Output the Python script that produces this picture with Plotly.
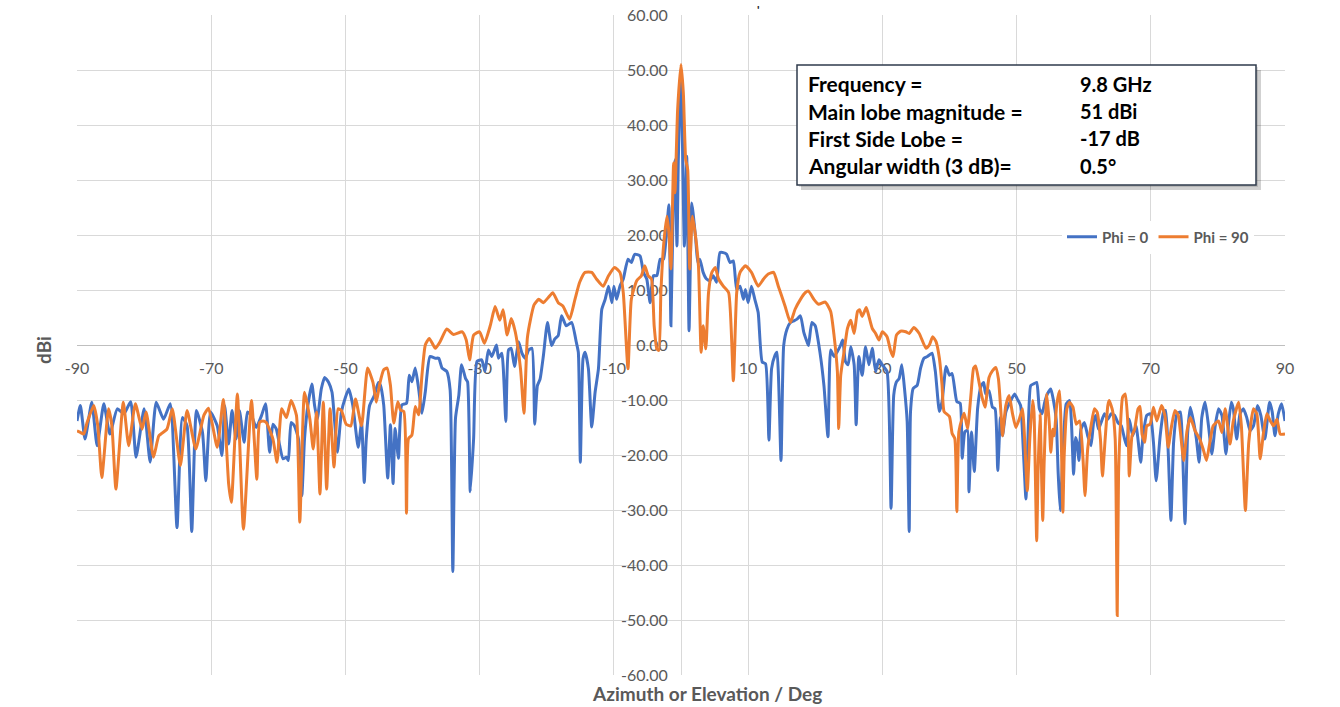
import plotly.graph_objects as go

# ---------------- data ----------------
phi0_angle = [-90.0, -89.5, -88.8, -87.8, -87.0, -86.0, -85.1, -84.0, -83.0, -82.0, -81.2, -80.0, -79.1, -78.2, -77.1, -76.1,
              -75.1, -74.3, -73.6, -72.9, -72.2, -71.3, -70.8, -70.1, -69.1, -68.4, -68.0, -67.4, -66.9, -66.3, -65.8, -65.1,
              -64.6, -64.0, -63.3, -62.5, -61.9, -61.3, -60.8, -60.3, -59.8, -59.3, -58.8, -58.5, -58.1, -57.6, -57.0, -56.5,
              -56.1, -55.6, -55.0, -54.6, -54.2, -53.6, -53.1, -52.5, -52.0, -51.6, -51.2, -50.6, -50.0, -49.5, -48.9, -48.1,
              -47.6, -47.2, -46.9, -46.4, -45.7, -45.1, -44.8, -44.3, -43.7, -43.3, -42.9, -42.6, -42.1, -41.6, -40.9, -40.5,
              -40.1, -39.6, -39.1, -38.6, -38.1, -37.4, -36.6, -36.1, -35.6, -34.9, -34.4, -34.0, -33.6, -33.1, -32.7, -32.1,
              -31.8, -31.4, -30.9, -30.4, -29.7, -29.2, -28.7, -28.2, -27.5, -27.2, -26.7, -26.1, -25.7, -25.3, -24.8, -24.2,
              -23.7, -23.2, -22.7, -22.2, -21.8, -21.4, -21.0, -20.5, -19.9, -19.3, -18.8, -18.3, -17.8, -17.1, -16.3, -15.6,
              -15.3, -15.0, -14.6, -14.3, -13.8, -13.3, -12.8, -12.3, -11.8, -11.3, -10.8, -10.3, -10.0, -9.6, -9.1, -8.6,
              -7.9, -7.4, -6.9, -6.1, -5.6, -5.1, -4.6, -4.1, -3.6, -3.1, -2.6, -2.1, -1.8, -1.5, -1.1, -0.9,
              -0.6, -0.4, 0.0, 0.5, 0.85, 1.2, 1.6, 1.8, 2.2, 2.5, 2.8, 3.3, 3.8, 4.3, 4.8, 5.3,
              5.8, 6.3, 6.8, 7.3, 7.8, 8.3, 8.8, 9.3, 9.6, 10.0, 10.5, 11.0, 11.5, 12.1, 12.6, 13.1,
              13.5, 14.0, 14.3, 14.9, 15.3, 15.8, 16.3, 16.8, 17.3, 17.8, 18.3, 18.8, 19.0, 19.5, 20.0, 20.7,
              21.3, 21.9, 22.3, 22.8, 23.3, 23.8, 24.1, 24.5, 24.9, 25.3, 25.8, 26.1, 26.5, 27.0, 27.5, 28.0,
              28.5, 29.0, 29.5, 30.0, 30.7, 31.3, 31.7, 32.1, 32.5, 32.9, 33.3, 33.7, 34.0, 34.2, 34.6, 35.2,
              35.7, 36.2, 36.7, 37.4, 37.9, 38.5, 38.9, 39.5, 40.0, 40.4, 41.1, 41.6, 41.9, 42.3, 42.7, 42.9,
              43.3, 43.7, 44.2, 44.7, 45.1, 45.4, 45.9, 46.4, 46.8, 47.2, 47.6, 47.9, 48.4, 48.9, 49.7, 50.1,
              50.6, 51.0, 51.4, 51.7, 52.1, 52.5, 53.0, 53.4, 53.8, 54.2, 54.6, 55.1, 55.5, 55.9, 56.2, 56.5,
              56.9, 57.4, 57.9, 58.2, 58.5, 58.8, 59.0, 59.3, 59.6, 60.1, 60.6, 61.1, 61.5, 61.8, 62.2, 62.6,
              63.1, 63.6, 64.1, 64.6, 65.1, 65.6, 66.1, 66.4, 66.8, 67.3, 67.8, 68.5, 68.8, 69.4, 69.9, 70.4,
              70.8, 71.4, 71.9, 72.2, 72.6, 73.0, 73.4, 73.9, 74.4, 74.7, 75.1, 75.5, 75.9, 76.4, 76.8, 77.2,
              77.6, 78.1, 78.6, 79.1, 79.6, 80.1, 80.6, 81.2, 81.6, 82.0, 82.3, 82.8, 83.3, 83.8, 84.3, 84.8,
              85.3, 85.9, 86.4, 87.0, 87.7, 88.1, 88.5, 89.0, 89.5, 90.0]
phi0_dbi = [-13.8, -11.0, -17.1, -10.4, -18.3, -10.7, -16.2, -11.6, -12.5, -10.3, -20.4, -11.6, -21.3, -10.4, -13.5, -10.7,
            -33.2, -13.2, -14.7, -33.9, -11.9, -15.9, -24.7, -12.2, -14.7, -20.1, -11.0, -18.0, -11.9, -17.1, -11.9, -17.7,
            -12.2, -12.8, -15.0, -12.8, -10.7, -19.5, -14.4, -15.3, -18.3, -20.7, -20.4, -21.0, -14.1, -14.7, -17.1, -27.4,
            -17.1, -11.0, -7.1, -11.0, -13.5, -8.0, -5.9, -6.8, -8.6, -14.1, -19.5, -12.2, -9.5, -8.0, -11.0, -18.6,
            -14.1, -25.0, -17.1, -11.0, -9.2, -6.8, -7.3, -10.9, -24.2, -14.5, -25.2, -15.2, -20.6, -10.9, -10.6, -5.5,
            -6.7, -4.2, -7.9, -12.4, -8.5, -2.1, -2.4, -2.4, -4.2, -4.8, -8.2, -41.2, -13.3, -9.1, -3.6, -6.1,
            -6.7, -26.7, -17.0, -3.0, -2.7, -4.8, -0.9, -2.1, 0.0, -2.4, -1.5, -13.9, -0.9, -0.6, -3.9, 0.6,
            -1.5, -2.4, -0.9, -0.6, -14.4, -7.4, -6.2, -1.9, 4.1, -0.1, 1.1, 1.7, 5.3, 3.5, 4.1, 0.5,
            -1.3, -21.3, -2.5, -1.3, -4.3, -14.9, -8.6, -4.3, 6.5, 8.3, 10.7, 7.7, 10.7, 8.3, 10.7, 12.0,
            15.6, 15.0, 16.5, 16.2, 13.2, 12.0, 7.7, 12.6, 12.6, 15.6, 15.6, 21.6, 25.5, 3.5, 29.5, 33.7,
            18.0, 33.7, 50.0, 18.0, 34.3, 2.6, 25.8, 24.0, 19.2, 15.0, 15.6, 13.2, 12.0, 11.7, 12.6, 11.4,
            16.8, 16.8, 16.5, 15.0, 15.3, 10.1, 10.7, 8.3, 10.1, 7.7, 10.7, 8.3, 5.9, -3.1, -3.4, -17.3,
            -4.3, -1.9, -1.3, -21.0, -0.1, 2.9, 4.1, 4.4, 4.7, 5.3, 2.3, 0.5, -0.1, 4.1, 3.5, -1.3,
            -7.4, -16.7, -0.9, -2.1, -1.2, 0.0, 0.9, -3.0, -3.6, -0.3, -3.6, -14.5, -2.1, -5.5, -0.3, -3.6,
            -0.6, -4.8, -2.7, -3.6, -4.8, -29.7, -9.1, -6.7, -6.1, -3.6, -7.9, -13.9, -33.9, -12.1, -7.9, -7.3,
            -4.2, -2.4, -2.1, -1.5, -4.8, -12.1, -10.3, -3.9, -5.5, -5.2, -10.3, -10.6, -20.6, -15.8, -15.5, -26.7,
            -15.8, -23.0, -11.5, -7.5, -6.8, -8.9, -8.3, -11.3, -11.6, -22.8, -13.2, -16.5, -12.2, -10.7, -8.9, -9.8,
            -11.0, -18.9, -28.0, -17.1, -7.4, -7.1, -6.8, -11.6, -12.5, -10.4, -8.9, -8.0, -10.1, -13.5, -23.2, -30.1,
            -20.1, -10.7, -10.1, -14.7, -23.5, -16.8, -17.7, -21.0, -15.3, -14.1, -16.5, -18.3, -13.8, -12.8, -15.3, -14.1,
            -12.5, -13.5, -12.5, -12.8, -14.1, -14.7, -17.1, -18.3, -13.5, -16.5, -14.7, -21.3, -17.1, -12.8, -12.5, -17.7,
            -24.7, -16.5, -12.2, -11.9, -19.5, -31.9, -17.7, -12.5, -12.2, -17.7, -32.5, -15.9, -11.3, -14.1, -17.1, -21.3,
            -13.2, -10.4, -14.7, -19.8, -14.7, -11.6, -12.8, -19.8, -14.1, -10.4, -11.6, -17.1, -12.5, -11.6, -13.2, -15.6,
            -14.7, -11.0, -12.8, -17.1, -10.4, -12.2, -16.5, -12.5, -10.7, -13.8]

phi90_angle = [-90.0, -89.5, -89.0, -88.5, -87.5, -86.9, -86.3, -85.3, -84.8, -84.2, -83.1, -82.3, -81.3, -80.3, -79.7, -78.6,
               -77.8, -76.6, -75.8, -74.6, -73.6, -72.3, -71.1, -70.4, -69.1, -68.2, -67.4, -67.0, -66.1, -65.2, -64.0, -63.2,
               -62.8, -62.3, -61.8, -60.8, -60.2, -59.5, -58.8, -58.1, -57.3, -56.8, -56.1, -55.3, -54.8, -54.3, -53.8, -53.3,
               -52.8, -52.3, -51.7, -51.1, -50.6, -49.9, -49.2, -48.5, -47.6, -46.7, -45.9, -45.4, -44.9, -44.3, -43.8, -43.3,
               -42.8, -42.2, -41.8, -41.3, -40.9, -40.6, -40.1, -39.6, -39.1, -38.6, -38.1, -37.5, -36.6, -35.9, -34.9, -33.9,
               -32.6, -32.0, -31.5, -30.9, -30.0, -29.3, -28.4, -27.7, -27.0, -26.5, -25.9, -25.3, -24.7, -23.9, -23.4, -22.9,
               -22.4, -21.9, -21.2, -20.5, -19.8, -19.1, -18.3, -17.6, -16.6, -15.8, -15.1, -14.3, -13.3, -12.6, -11.6, -10.8,
               -9.9, -9.1, -8.6, -7.9, -7.4, -6.6, -5.9, -5.4, -4.9, -4.4, -4.0, -3.6, -3.3, -3.0, -2.6, -2.1,
               -1.8, -1.5, -1.1, -0.9, -0.5, 0.0, 0.35, 0.7, 1.0, 1.3, 1.7, 2.1, 2.6, 3.0, 3.3, 3.7,
               4.1, 4.6, 5.1, 5.6, 6.3, 7.1, 7.8, 8.3, 8.8, 9.6, 10.5, 11.5, 12.3, 13.0, 13.8, 14.5,
               15.5, 16.3, 17.0, 17.8, 18.5, 19.0, 19.8, 20.5, 21.5, 22.3, 22.8, 23.3, 23.5, 23.8, 24.3, 24.8,
               25.3, 25.8, 26.3, 26.6, 27.0, 27.6, 28.0, 28.5, 29.0, 29.5, 30.0, 30.7, 31.2, 31.6, 32.1, 32.7,
               33.5, 34.0, 34.7, 35.5, 36.5, 37.0, 37.5, 38.0, 38.5, 38.9, 39.2, 40.0, 40.4, 40.8, 41.1, 41.4,
               41.9, 42.2, 42.7, 43.2, 43.6, 43.9, 44.4, 44.8, 45.3, 45.9, 46.4, 46.9, 47.3, 47.7, 47.9, 48.4,
               48.9, 49.4, 49.9, 50.4, 50.9, 51.2, 51.6, 52.0, 52.4, 52.6, 53.0, 53.2, 53.5, 53.9, 54.1, 54.5,
               54.9, 55.1, 55.4, 55.6, 56.0, 56.4, 56.6, 56.9, 57.1, 57.5, 57.9, 58.4, 58.9, 59.4, 59.9, 60.2,
               60.6, 61.1, 61.6, 62.0, 62.5, 62.8, 63.2, 63.6, 63.8, 64.3, 64.7, 65.0, 65.2, 65.5, 65.8, 66.2,
               66.6, 66.8, 67.2, 67.6, 68.1, 68.4, 68.7, 69.1, 69.4, 69.9, 70.4, 70.9, 71.6, 72.1, 72.6, 73.1,
               73.6, 74.1, 74.9, 75.4, 75.9, 76.6, 77.3, 77.8, 78.3, 78.8, 79.3, 80.1, 80.6, 81.1, 81.8, 82.3,
               83.1, 83.5, 84.1, 84.6, 85.3, 85.8, 86.3, 86.8, 87.3, 87.8, 88.3, 88.8, 89.3, 90.0]
phi90_dbi = [-15.6, -15.9, -16.2, -14.1, -11.0, -14.7, -24.1, -11.6, -14.7, -26.2, -10.4, -18.3, -10.7, -15.3, -12.2, -20.4,
             -16.5, -15.3, -11.6, -21.9, -11.9, -18.9, -12.8, -11.5, -18.6, -9.9, -25.3, -28.6, -8.9, -33.5, -10.1, -24.4,
             -14.1, -13.8, -14.1, -17.1, -21.3, -11.6, -13.2, -10.1, -12.8, -32.2, -8.6, -13.5, -18.9, -12.2, -27.1, -10.4,
             -26.2, -11.6, -22.2, -11.6, -11.9, -14.4, -14.7, -9.8, -14.7, -4.2, -6.8, -10.4, -7.1, -4.5, -4.2, -7.3,
             -14.2, -10.3, -11.8, -12.1, -30.6, -17.0, -16.4, -11.2, -12.7, -5.5, 0.0, 1.2, -0.6, 0.6, 2.9, 1.9,
             2.4, 0.9, -2.7, 1.8, 2.4, 0.3, 3.6, 7.0, 4.5, 6.4, 1.8, 4.8, 2.4, -4.5, -12.4, 1.2,
             4.8, 7.3, 8.3, 7.7, 8.6, 9.5, 7.7, 7.1, 4.7, 8.3, 11.4, 13.2, 13.2, 12.0, 10.7, 12.6,
             14.1, 13.2, 9.5, -4.3, 8.3, 11.7, 12.6, 14.4, 12.6, 12.0, 3.5, -0.7, -1.0, 9.5, 18.0, 23.4,
             20.4, 13.8, 33.1, 27.7, 42.8, 51.0, 45.8, 33.7, 31.9, 13.8, 23.4, 20.4, 14.4, -1.3, 3.5, -0.7,
             9.5, 13.2, 14.1, 12.0, 10.7, 9.5, -6.5, 9.5, 13.2, 14.4, 13.2, 10.7, 12.0, 12.9, 13.2, 10.7,
             7.1, 4.1, 6.5, 8.3, 9.5, 9.8, 8.3, 7.4, 7.8, 6.1, 1.8, -4.8, -15.2, -5.5, -1.2, 3.0,
             4.5, 2.1, 6.1, 6.4, 5.2, 6.8, 5.2, 3.0, 2.1, 0.9, 2.4, 1.5, -0.9, -2.1, 1.8, 2.5,
             2.4, 2.1, 3.2, 2.1, -0.6, 0.0, 1.5, 0.6, -2.4, -7.3, -12.1, -13.0, -16.1, -17.0, -30.3, -15.8,
             -13.3, -12.4, -15.2, -9.1, -4.2, -3.8, -6.7, -9.2, -11.3, -5.9, -4.7, -4.1, -6.2, -12.8, -16.5, -11.0,
             -9.2, -12.5, -15.0, -13.5, -11.6, -17.1, -26.5, -16.5, -10.1, -12.2, -35.6, -23.2, -12.5, -31.9, -21.9, -8.9,
             -14.7, -19.5, -15.3, -16.5, -10.7, -8.3, -13.5, -30.4, -20.1, -11.6, -10.4, -11.3, -14.4, -13.8, -20.7, -27.4,
             -18.9, -14.7, -11.6, -12.2, -17.1, -23.8, -17.1, -11.0, -10.1, -11.9, -17.1, -49.2, -23.2, -14.1, -9.5, -8.9,
             -14.7, -23.8, -16.5, -15.3, -11.6, -11.2, -16.2, -17.7, -14.7, -14.4, -11.3, -13.8, -11.0, -12.8, -18.6, -14.7,
             -11.9, -12.8, -21.0, -15.6, -13.2, -15.6, -17.1, -18.9, -21.0, -17.7, -14.7, -13.8, -15.9, -11.6, -18.0, -13.8,
             -10.4, -14.7, -30.1, -17.7, -11.6, -12.5, -20.7, -15.9, -12.5, -13.8, -14.7, -13.5, -16.2, -16.2]

series_names = ["Phi = 0", "Phi = 90"]
x_tick_values = [-90, -70, -50, -30, -10, 10, 30, 50, 70, 90]
x_tick_labels = ["-90", "-70", "-50", "-30", "-10", "10", "30", "50", "70", "90"]
y_tick_values = [-60, -50, -40, -30, -20, -10, 0, 10, 20, 30, 40, 50, 60]
y_tick_labels = ["-60.00", "-50.00", "-40.00", "-30.00", "-20.00", "-10.00", "0.00",
                 "10.00", "20.00", "30.00", "40.00", "50.00", "60.00"]
info_labels = ["Frequency =", "Main lobe magnitude =", "First Side Lobe =", "Angular width (3 dB)="]
info_values = ["9.8 GHz", "51 dBi", "-17 dB", "0.5°"]

# ---------------- layout helpers ----------------
W, H = 1340, 707
L, R, T, B = 77, 55, 15, 32
PW, PH = W - L - R, H - T - B


def px(xp):
    return (xp - L) / PW


def py(yp):
    return (H - B - yp) / PH


FONT = "Lato, 'Open Sans', sans-serif"
GRAY = "#595959"

fig = go.Figure()
fig.add_trace(go.Scatter(x=phi0_angle, y=phi0_dbi, mode="lines", name=series_names[0],
                         line=dict(color="#4472C4", width=3, shape="spline", smoothing=0.5)))
fig.add_trace(go.Scatter(x=phi90_angle, y=phi90_dbi, mode="lines", name=series_names[1],
                         line=dict(color="#ED7D31", width=3, shape="spline", smoothing=0.5)))

fig.update_layout(
    width=W, height=H, autosize=False,
    margin=dict(l=L, r=R, t=T, b=B, pad=0),
    paper_bgcolor="white", plot_bgcolor="white",
    font=dict(family=FONT, color=GRAY),
    showlegend=True,
    legend=dict(orientation="h", x=px(1062), y=py(237), xanchor="left", yanchor="middle",
                bgcolor="white", borderwidth=0, itemwidth=30,
                font=dict(family=FONT, size=15, color=GRAY, weight="bold")),
    xaxis=dict(range=[-90, 90], tickvals=x_tick_values, ticktext=x_tick_labels,
               showgrid=True, gridcolor="#D9D9D9", gridwidth=1,
               zeroline=True, zerolinecolor="#D9D9D9", zerolinewidth=1,
               showline=False, anchor="free", position=0.5,
               ticks="outside", ticklen=9, tickcolor="rgba(0,0,0,0)",
               tickfont=dict(family=FONT, size=16, color=GRAY),
               layer="below traces", automargin=False, fixedrange=True),
    yaxis=dict(range=[-60, 60], tickvals=y_tick_values, ticktext=y_tick_labels,
               showgrid=True, gridcolor="#D9D9D9", gridwidth=1,
               zeroline=True, zerolinecolor="#BFBFBF", zerolinewidth=1,
               showline=False, anchor="free", position=0.5,
               ticks="outside", ticklen=10, tickcolor="rgba(0,0,0,0)",
               tickfont=dict(family=FONT, size=16, color=GRAY),
               layer="below traces", automargin=False, fixedrange=True),
)

# info box (shadow + box)
fig.add_shape(type="rect", xref="paper", yref="paper",
              x0=px(801), x1=px(1261), y0=py(70), y1=py(190),
              fillcolor="rgba(0,0,0,0.18)", line=dict(width=0), layer="above")
fig.add_shape(type="rect", xref="paper", yref="paper",
              x0=px(799), x1=px(1258), y0=py(67), y1=py(187),
              fillcolor="rgba(0,0,0,0.12)", line=dict(width=0), layer="above")
fig.add_shape(type="rect", xref="paper", yref="paper",
              x0=px(797), x1=px(1256), y0=py(65), y1=py(185),
              fillcolor="white", line=dict(color="#2F3B4C", width=1.5), layer="above")

row_y = [84, 111, 138, 166]
for lab, val, yy in zip(info_labels, info_values, row_y):
    fig.add_annotation(xref="paper", yref="paper", x=px(806), y=py(yy), text=lab,
                       showarrow=False, xanchor="left", yanchor="middle",
                       font=dict(family=FONT, size=21, color="black", weight="bold"))
    fig.add_annotation(xref="paper", yref="paper", x=px(1078), y=py(yy), text=val,
                       showarrow=False, xanchor="left", yanchor="middle",
                       font=dict(family=FONT, size=20, color="black", weight="bold"))

# axis titles
fig.add_annotation(xref="paper", yref="paper", x=px(707), y=py(693), text="Azimuth or Elevation / Deg",
                   showarrow=False, xanchor="center", yanchor="middle",
                   font=dict(family=FONT, size=19, color=GRAY, weight="bold"))
fig.add_annotation(xref="paper", yref="paper", x=px(43), y=py(350), text="dBi", textangle=-90,
                   showarrow=False, xanchor="center", yanchor="middle",
                   font=dict(family=FONT, size=19, color=GRAY, weight="bold"))
# clipped chart-title remnant
fig.add_annotation(xref="paper", yref="paper", x=px(758), y=py(9), text="'",
                   showarrow=False, xanchor="center", yanchor="middle",
                   font=dict(family=FONT, size=12, color="#222222", weight="bold"))

fig.write_html("out.html", config={"displayModeBar": False},
               post_script="document.body.style.margin='0px';document.body.style.overflow='hidden';")
